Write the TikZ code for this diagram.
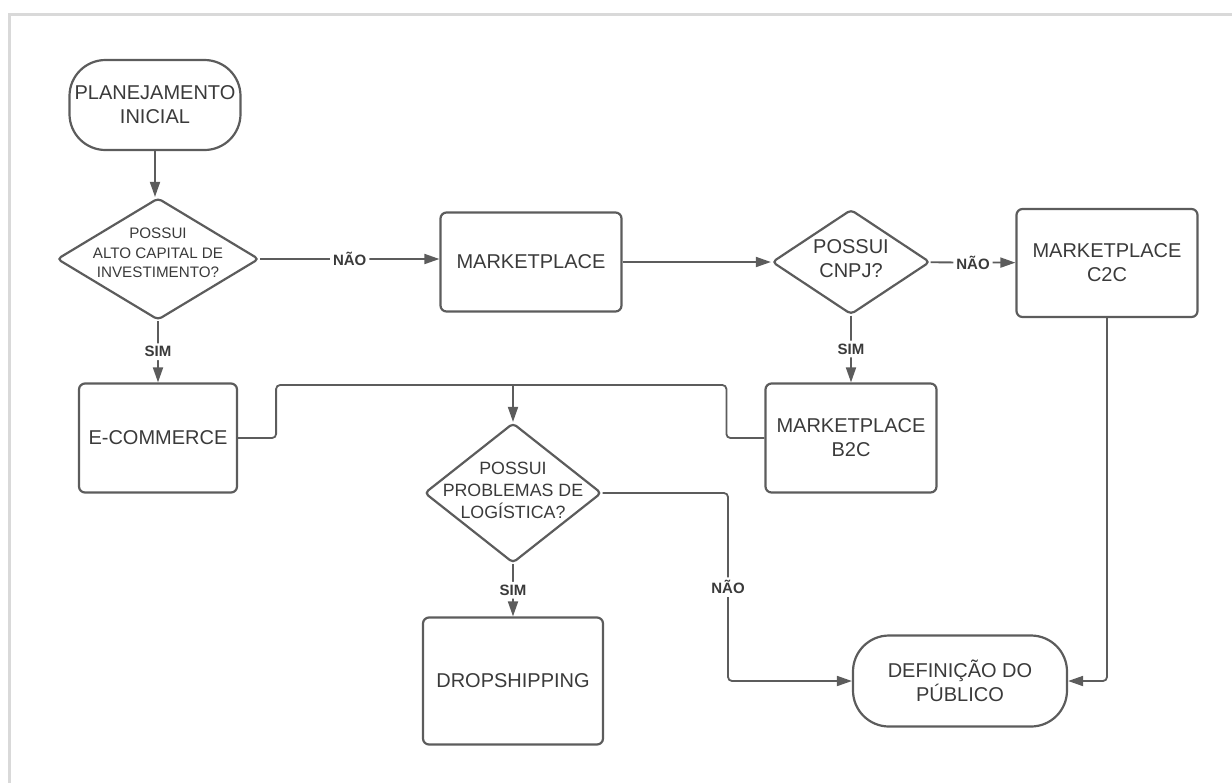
\documentclass[tikz,border=0pt]{standalone}
\usepackage{fontspec}
\setmainfont{Liberation Sans}
\usetikzlibrary{shapes.geometric, arrows.meta}

\definecolor{linegray}{HTML}{5C5C5C}
\definecolor{textgray}{HTML}{3A3A3A}

\begin{document}
\begin{tikzpicture}
        [x=0.5pt, y=-0.5pt,
        every node/.style={text=textgray, font=\fontsize{10}{12}\selectfont, align=center},
        every path/.style={line width=0.9pt},
        box/.style={draw=linegray, line width=1.1pt, rounded corners=3pt, inner sep=0pt},
        term/.style={draw=linegray, line width=1.1pt, rounded corners=18pt, inner sep=0pt},
        decision/.style={draw=linegray, line width=1.1pt, diamond, inner sep=0pt, rounded corners=2pt},
        qsmall/.style={font=\fontsize{7.6}{9.75}\selectfont},
        qmid/.style={font=\fontsize{8.9}{11}\selectfont},
        conn/.style={draw=linegray, rounded corners=2pt},
        arr/.style={conn, -{Triangle[length=7.5pt, width=5pt]}},
        answer/.style={fill=white, inner sep=1.5pt, font=\bfseries\fontsize{7.5}{9}\selectfont}]

        \useasboundingbox (0,0) rectangle (1232,783);
        % page edge
        \draw[black!15, line width=1.5pt] (1232,14) -- (9,14) -- (9,783);

        \node[term, minimum width=85.5pt, minimum height=45pt] (plan) at (155,105) {PLANEJAMENTO\\INICIAL};
        \node[decision, minimum width=101pt, minimum height=61pt,
              label={[qsmall, yshift=3pt]center:POSSUI\\ALTO CAPITAL DE\\INVESTIMENTO?}] (d1) at (158,259) {};
        \node[box, minimum width=90.5pt, minimum height=49.5pt] (mkt) at (531,262) {MARKETPLACE};
        \node[decision, minimum width=79pt, minimum height=52.5pt,
              label={[yshift=1.5pt]center:POSSUI\\CNPJ?}] (d2) at (851,262) {};
        \node[box, minimum width=90.5pt, minimum height=54pt] (c2c) at (1107,263) {MARKETPLACE\\C2C};
        \node[box, minimum width=79pt, minimum height=54.5pt] (ec) at (158,438) {E-COMMERCE};
        \node[box, minimum width=85.5pt, minimum height=54.5pt] (b2c) at (851,438) {MARKETPLACE\\B2C};
        \node[decision, minimum width=88.5pt, minimum height=70pt,
              label={[qmid, yshift=1.5pt]center:POSSUI\\PROBLEMAS DE\\LOGÍSTICA?}] (d3) at (513,493) {};
        \node[box, minimum width=90pt, minimum height=63.5pt] (drop) at (513,681) {DROPSHIPPING};
        \node[term, minimum width=107pt, minimum height=45.5pt] (def) at (960,681) {DEFINIÇÃO DO\\PÚBLICO};

        \coordinate (j) at (513,385);
        \coordinate (k) at (728,493);

        \draw[arr] (plan.south) -- (plan.south |- d1.north);
        \draw[arr] (d1.east) -- node[answer]{NÃO} (d1.east -| mkt.west);
        \draw[arr] (d1) -- node[answer]{SIM} (ec);
        \draw[arr] (mkt) -- (d2);
        \draw[arr] (d2) -- node[answer]{NÃO} (c2c);
        \draw[arr] (d2) -- node[answer]{SIM} (b2c);
        \draw[conn] (ec.east) -- ++(38,0) |- (j);
        \draw[conn] (b2c.west) -- ++(-38,0) |- (j);
        \draw[arr] (j) -- (d3);
        \draw[arr] (d3) -- node[answer]{SIM} (drop);
        \draw[arr] (d3.east) -- (k) |- node[answer, pos=0.25]{NÃO} (def.west);
        \draw[arr] (c2c) |- (def);

      \end{tikzpicture}
\end{document}
